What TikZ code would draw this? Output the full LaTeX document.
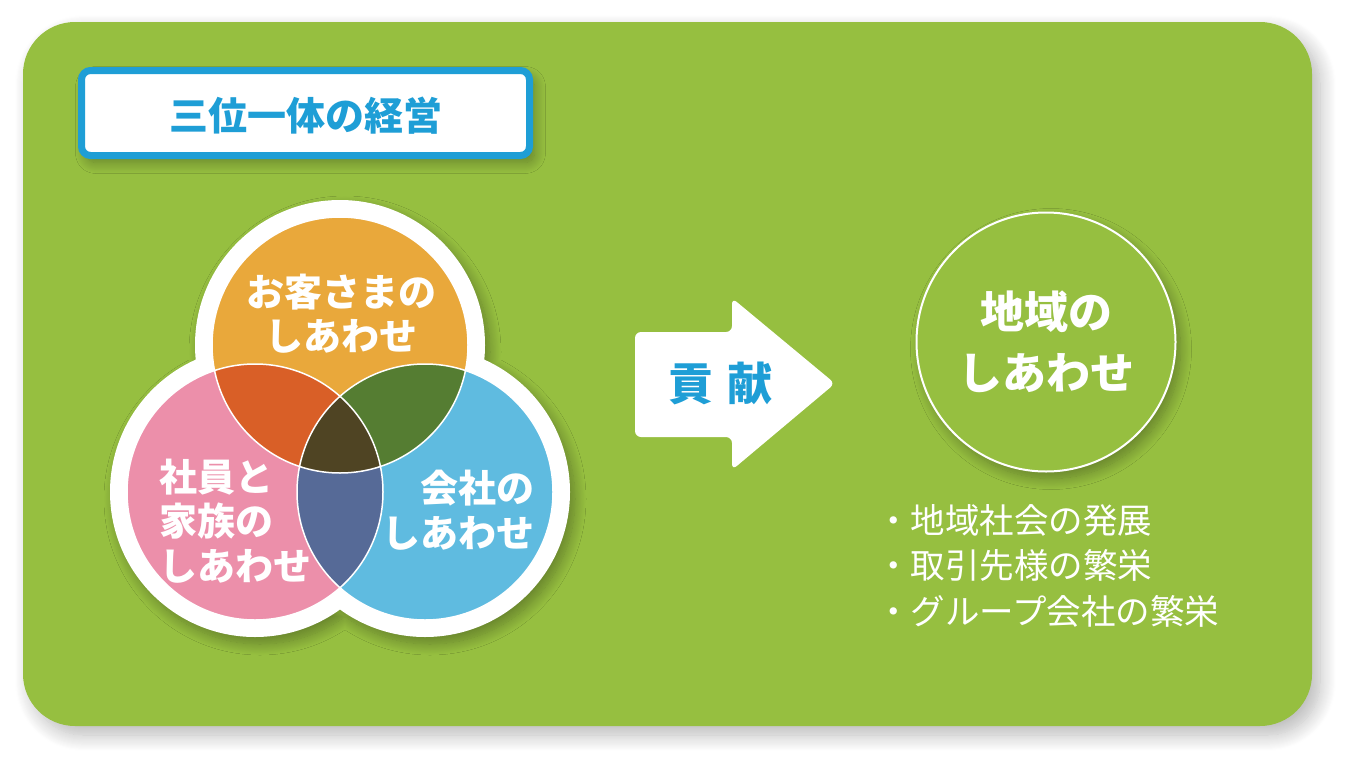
\documentclass[tikz,border=0pt]{standalone}
\usepackage{fontspec}
\setmainfont{Noto Sans CJK JP}
\usetikzlibrary{shadows.blur}
\definecolor{bg}{HTML}{96BF40}
\definecolor{tblue}{HTML}{1E9ED6}
\definecolor{cor}{HTML}{E9A83B}
\definecolor{cpk}{HTML}{EC8FAA}
\definecolor{cbl}{HTML}{5FBBE0}
\definecolor{cop}{HTML}{D95F27}
\definecolor{cob}{HTML}{557D32}
\definecolor{cpb}{HTML}{566A97}
\definecolor{ccen}{HTML}{4F4423}
\tikzset{
  lbl/.style={text=white, font=\bfseries\fontsize{38}{44.5}\selectfont, inner sep=0pt},
  softshadow/.style={blur shadow={shadow xshift=5pt, shadow yshift=-7pt, shadow blur radius=11pt, shadow blur steps=16, shadow opacity=32}},
}
\begin{document}
\begin{tikzpicture}[x=1pt,y=-1pt]
\useasboundingbox (0,0) rectangle (1357,771);
% panel
\fill[bg, rounded corners=52pt, blur shadow={shadow xshift=8pt, shadow yshift=-9pt, shadow blur radius=16pt, shadow blur steps=16, shadow opacity=28}] (23,22) rectangle (1312,726);
% title box
\node[draw=tblue, line width=7pt, fill=white, rounded corners=9pt, minimum width=448pt, minimum height=85pt, inner sep=0pt, softshadow] (titlebox) at (305.5,113) {};
\node[text=tblue, font=\bfseries\fontsize{39}{39}\selectfont, inner sep=0pt] (title) at (306,116) {三位一体の経営};
% venn
\coordinate (T) at (340,345);
\coordinate (L) at (255,492);
\coordinate (R) at (425,492);
\fill[white, softshadow] (T) circle (145) (L) circle (145) (R) circle (145);
\fill[cor] (T) circle (128);
\fill[cpk] (L) circle (128);
\fill[cbl] (R) circle (128);
\begin{scope}
  \clip (T) circle (128);
  \fill[cop] (L) circle (128);
  \fill[cob] (R) circle (128);
\end{scope}
\begin{scope}
  \clip (L) circle (128);
  \fill[cpb] (R) circle (128);
\end{scope}
\begin{scope}
  \clip (T) circle (128);
  \clip (L) circle (128);
  \fill[ccen] (R) circle (128);
\end{scope}
\draw[white, line width=1.5pt] (T) circle (128) (L) circle (128) (R) circle (128);
\node[lbl, align=center] (okyaku) at (341,313.5) {お客さまの\\しあわせ};
\node[lbl, align=left, anchor=west] (shain) at (159,521) {社員と\\家族の\\しあわせ};
\node[lbl, align=right, anchor=east] (kaisha) at (535,510) {会社の\\しあわせ};
% arrow
\fill[white, rounded corners=6pt] (635,332) -- (732,332) -- (732,298) -- (835,383.5) -- (732,470) -- (732,437) -- (635,437) -- cycle;
\node[text=tblue, font=\bfseries\fontsize{45}{45}\selectfont, inner sep=0pt] (kouken) at (720,383.5) {貢\hspace{14pt}献};
% region circle
\node[circle, draw=white, line width=2pt, fill=bg, minimum size=259pt, inner sep=0pt, softshadow, text=white, align=center, font=\bfseries\fontsize{44}{61}\selectfont] (chiiki) at (1046,342) {地域の\\しあわせ};
% list
\node[text=white, align=left, anchor=west, inner sep=0pt, font=\fontsize{34.5}{45.5}\selectfont] (list) at (876,565.5) {・地域社会の発展\\・取引先様の繁栄\\・グループ会社の繁栄};
\end{tikzpicture}
\end{document}
